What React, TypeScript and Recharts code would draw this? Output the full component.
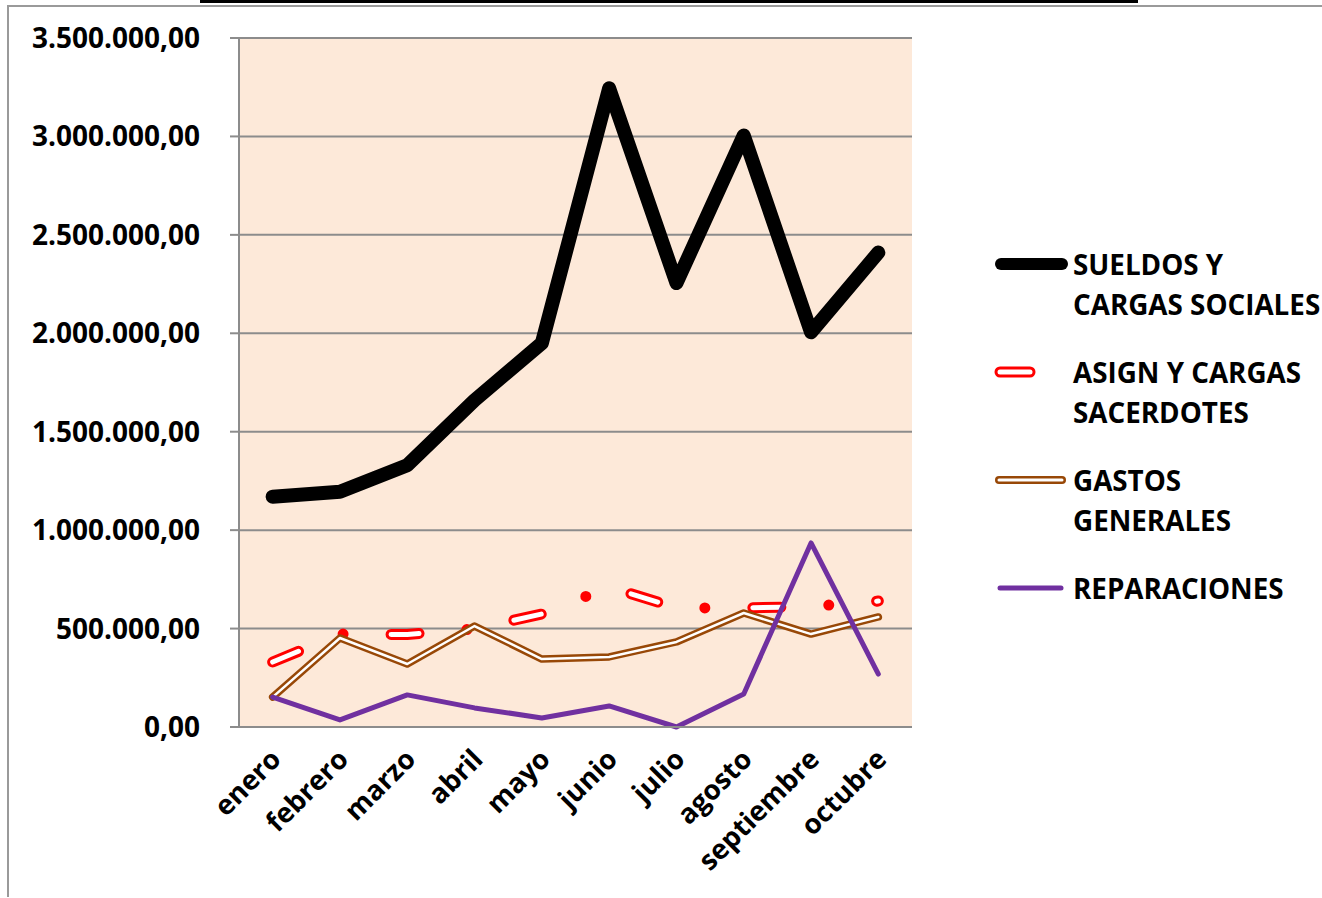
import React from "react";
import {
  CartesianGrid,
  Legend,
  Line,
  LineChart,
  XAxis,
  YAxis,
} from "recharts";

const months = [
  "enero",
  "febrero",
  "marzo",
  "abril",
  "mayo",
  "junio",
  "julio",
  "agosto",
  "septiembre",
  "octubre",
];

const sueldos = [1170000, 1195000, 1330000, 1660000, 1950000, 3245000, 2255000, 3005000, 2005000, 2410000];
const asign = [330000, 472000, 470000, 498000, 574000, 711000, 605000, 605000, 612000, 640000];
const gastos = [152000, 452000, 320000, 513000, 345000, 356000, 432000, 579000, 472000, 559000];
const reparaciones = [152000, 36000, 163000, 97000, 46000, 107000, 0, 168000, 935000, 269000];

const yTicks = [0, 500000, 1000000, 1500000, 2000000, 2500000, 3000000, 3500000];

const data = months.map((month, i) => ({
  x: i + 0.5,
  month,
  sueldos: sueldos[i],
  asign: asign[i],
  gastos: gastos[i],
  reparaciones: reparaciones[i],
}));

const centerTicks = months.map((_, i) => i + 0.5);
const boundTicks = [...months.map((_, i) => i), months.length];

const FONT = "'Open Sans', sans-serif";
const GRID = "#8c8c8c";

function fmt(v: number) {
  const [int, dec] = v.toFixed(2).split(".");
  return int.replace(/\B(?=(\d{3})+(?!\d))/g, ".") + "," + dec;
}

function MonthTick({ x, y, payload }: any) {
  const label = months[Math.floor(payload.value)];
  const px = x + 10;
  const py = y + 33;
  return (
    <text
      x={px}
      y={py}
      transform={`rotate(-45, ${px}, ${py})`}
      textAnchor="end"
      style={{ fontFamily: FONT, fontWeight: 700, fontSize: 27.5 }}
      fill="#000"
    >
      {label}
    </text>
  );
}

function ValueTick({ x, y, payload }: any) {
  return (
    <text
      x={x - 28}
      y={y}
      dy={10}
      textAnchor="end"
      style={{ fontFamily: FONT, fontWeight: 700, fontSize: 28 }}
      fill="#000"
    >
      {fmt(payload.value)}
    </text>
  );
}

const legendItems = [
  { lines: ["SUELDOS Y", "CARGAS SOCIALES"], kind: "sueldos" },
  { lines: ["ASIGN Y CARGAS", "SACERDOTES"], kind: "asign" },
  { lines: ["GASTOS", "GENERALES"], kind: "gastos" },
  { lines: ["REPARACIONES"], kind: "reparaciones" },
];

function LegendIcon({ kind }: { kind: string }) {
  if (kind === "sueldos")
    return (
      <svg width={80} height={20}>
        <line x1={11} y1={10} x2={72} y2={10} stroke="#000" strokeWidth={12} strokeLinecap="round" />
      </svg>
    );
  if (kind === "asign")
    return (
      <svg width={80} height={20}>
        <line x1={10} y1={10} x2={40} y2={10} stroke="#ff0000" strokeWidth={11} strokeLinecap="round" />
        <line x1={10} y1={10} x2={40} y2={10} stroke="#fff" strokeWidth={5} strokeLinecap="round" />
      </svg>
    );
  if (kind === "gastos")
    return (
      <svg width={80} height={20}>
        <line x1={9} y1={10} x2={72} y2={10} stroke="#984807" strokeWidth={8} strokeLinecap="round" />
        <line x1={9} y1={10} x2={72} y2={10} stroke="#fff" strokeWidth={3} strokeLinecap="round" />
      </svg>
    );
  return (
    <svg width={80} height={20}>
      <line x1={10} y1={10} x2={71} y2={10} stroke="#7030a0" strokeWidth={5} strokeLinecap="round" />
    </svg>
  );
}

function ChartLegend() {
  return (
    <div style={{ display: "flex", flexDirection: "column", gap: 28 }}>
      {legendItems.map((item) => (
        <div key={item.kind} style={{ position: "relative", paddingLeft: 83 }}>
          <div style={{ position: "absolute", left: 0, top: 10 }}>
            <LegendIcon kind={item.kind} />
          </div>
          {item.lines.map((l) => (
            <div
              key={l}
              style={{
                fontFamily: FONT,
                fontWeight: 700,
                fontSize: 27.8,
                lineHeight: "40px",
                color: "#000",
                whiteSpace: "nowrap",
                textAlign: "left",
              }}
            >
              {l}
            </div>
          ))}
        </div>
      ))}
    </div>
  );
}

export default function App() {
  return (
    <div
      style={{
        position: "absolute",
        left: 0,
        top: 0,
        width: 1322,
        height: 898,
        background: "#fff",
        overflow: "hidden",
      }}
    >
      <div style={{ position: "absolute", left: 200, top: 0, width: 938, height: 3, background: "#000" }} />
      <div
        style={{
          position: "absolute",
          left: 7,
          top: 5,
          width: 1320,
          height: 890,
          borderLeft: "2px solid #9a9a9a",
          borderTop: "2px solid #9a9a9a",
        }}
      />
      <LineChart
        width={1322}
        height={898}
        data={data}
        margin={{ top: 38, right: 410, left: 0, bottom: 0 }}
      >
        <CartesianGrid
          xAxisId="main"
          vertical={false}
          fill="#fde9d9"
          stroke={GRID}
          strokeWidth={2}
        />
        <XAxis
          xAxisId="bounds"
          type="number"
          dataKey="x"
          domain={[0, 10]}
          ticks={boundTicks}
          tick={false}
          tickSize={10}
          height={1}
          axisLine={{ stroke: GRID, strokeWidth: 2 }}
          tickLine={{ stroke: GRID, strokeWidth: 2 }}
        />
        <XAxis
          xAxisId="main"
          type="number"
          dataKey="x"
          domain={[0, 10]}
          ticks={centerTicks}
          tick={<MonthTick />}
          tickLine={false}
          axisLine={false}
          tickSize={0}
          tickMargin={0}
          height={170}
          interval={0}
        />
        <YAxis
          domain={[0, 3500000]}
          ticks={yTicks}
          width={239}
          tickSize={9}
          interval={0}
          axisLine={{ stroke: GRID, strokeWidth: 2 }}
          tickLine={{ stroke: GRID, strokeWidth: 2 }}
          tick={<ValueTick />}
        />
        <Legend
          layout="vertical"
          align="center"
          verticalAlign="middle"
          content={<ChartLegend />}
          wrapperStyle={{ position: "absolute", left: 990, top: 244, width: 332 }}
        />
        <Line
          xAxisId="main"
          dataKey="sueldos"
          stroke="#000"
          strokeWidth={14}
          strokeLinecap="round"
          strokeLinejoin="round"
          dot={false}
          activeDot={false}
          isAnimationActive={false}
        />
        <Line
          xAxisId="main"
          dataKey="asign"
          stroke="#ff0000"
          strokeWidth={11}
          strokeDasharray="28 48 0 48"
          strokeLinecap="round"
          strokeLinejoin="round"
          dot={false}
          activeDot={false}
          isAnimationActive={false}
        />
        <Line
          xAxisId="main"
          dataKey="asign"
          stroke="#fff"
          strokeWidth={5}
          strokeDasharray="28 96"
          strokeLinecap="round"
          strokeLinejoin="round"
          dot={false}
          activeDot={false}
          legendType="none"
          isAnimationActive={false}
        />
        <Line
          xAxisId="main"
          dataKey="gastos"
          stroke="#984807"
          strokeWidth={7.5}
          strokeLinecap="round"
          strokeLinejoin="round"
          dot={false}
          activeDot={false}
          isAnimationActive={false}
        />
        <Line
          xAxisId="main"
          dataKey="gastos"
          stroke="#fff"
          strokeWidth={2.5}
          strokeLinecap="round"
          strokeLinejoin="round"
          dot={false}
          activeDot={false}
          legendType="none"
          isAnimationActive={false}
        />
        <Line
          xAxisId="main"
          dataKey="reparaciones"
          stroke="#7030a0"
          strokeWidth={5}
          strokeLinecap="round"
          strokeLinejoin="round"
          dot={false}
          activeDot={false}
          isAnimationActive={false}
        />
      </LineChart>
    </div>
  );
}
